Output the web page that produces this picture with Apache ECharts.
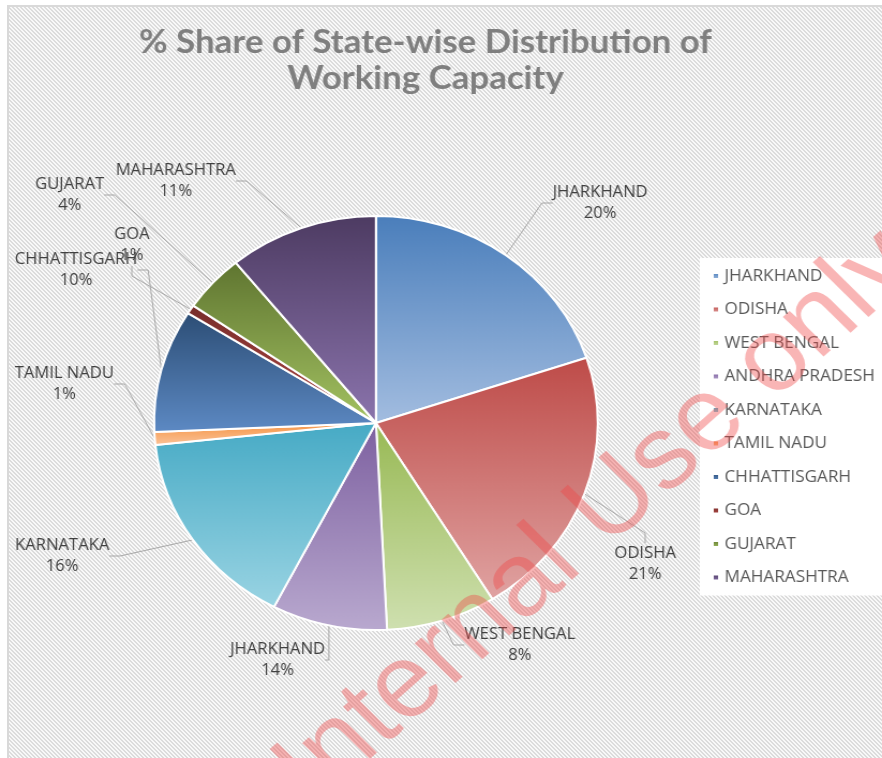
<!DOCTYPE html>
<html>
<head>
<meta charset="utf-8">
<script src="https://cdn.jsdelivr.net/npm/echarts@6/dist/echarts.min.js"></script>
<style>
html,body{margin:0;padding:0;background:#fff;width:882px;height:758px;overflow:hidden;}
#bg{position:absolute;left:7px;top:5px;width:900px;height:800px;border-left:2px solid #d9d9d9;border-top:2px solid #d9d9d9;
background:repeating-linear-gradient(45deg,#f8f8f8 0px,#f8f8f8 1.4px,#dcdcdc 1.4px,#dcdcdc 2.83px);}
#main{position:absolute;left:0;top:0;width:823px;height:758px;transform:scaleX(1.0717);transform-origin:0 0;}
</style>
</head>
<body>
<div id="bg"></div>
<div id="main"></div>
<script>
const categories = ['JHARKHAND','ODISHA','WEST BENGAL','ANDHRA PRADESH','KARNATAKA','TAMIL NADU','CHHATTISGARH','GOA','GUJARAT','MAHARASHTRA'];
const values = [19.9, 21.3, 8.0, 8.4, 15.7, 1.0, 9.6, 0.7, 4.5, 10.9];
const labelNames = ['JHARKHAND','ODISHA','WEST BENGAL','JHARKHAND','KARNATAKA','TAMIL NADU','CHHATTISGARH','GOA','GUJARAT','MAHARASHTRA'];
const labelPercents = ['20%','21%','8%','14%','16%','1%','10%','1%','4%','11%'];
const colorTop = ['#4a7ebb','#be4b48','#98b954','#7d60a0','#46aac5','#f69240','#2c4d75','#772c2a','#5f7530','#4d3b62'];
const colorBottom = ['#a3bde0','#e0a3a2','#cfe0b0','#b9a9cf','#9ad4e3','#fac49c','#5d8ac4','#b04a46','#a3c262','#8b74ad'];

// label anchor positions (layout, unscaled px)
const labelPos = [[560,203],[602,564],[485,645],[259,660],[58,556],[60,384],[71,270],[123,245],[65,195],[164,181]];

const chart = echarts.init(document.getElementById('main'), null, {renderer:'canvas', width:823, height:758});
const data = categories.map((c,i)=>({
  name:c, value:values[i],
  itemStyle:{color:new echarts.graphic.LinearGradient(0,0,0,1,[{offset:0,color:colorTop[i]},{offset:1,color:colorBottom[i]}])}
}));
chart.setOption({
  backgroundColor:'transparent',
  animation:false,
  title:{
    text:'% Share of State-wise Distribution of\nWorking Capacity',
    left:392, top:20, textAlign:'center',
    textStyle:{fontFamily:'Lato',fontWeight:'bold',fontSize:32.5,color:'#7f7f7f',lineHeight:36}
  },
  legend:{
    orient:'vertical', left:653, top:258,
    padding:[10,40,10,11], backgroundColor:'#ffffff',
    itemWidth:6, itemHeight:6, itemGap:17.5, icon:'rect',
    textStyle:{fontFamily:'Open Sans',fontSize:16,color:'#595959'},
    data:categories
  },
  series:[{
    type:'pie',
    center:[350.8,423], radius:207,
    startAngle:90, clockwise:true,
    data:data,
    itemStyle:{borderColor:'#ffffff',borderWidth:2},
    label:{
      show:true, position:'outside', overflow:'none',
      formatter:p=>labelNames[p.dataIndex]+'\n'+labelPercents[p.dataIndex],
      fontFamily:'Open Sans', fontSize:15.5, color:'#404040', lineHeight:21, align:'center'
    },
    labelLine:{show:true,length:30,length2:10,lineStyle:{color:'#a6a6a6',width:1}},
    labelLayout:p=>({x:labelPos[p.dataIndex][0], y:labelPos[p.dataIndex][1], align:'center', verticalAlign:'middle'}),
    emphasis:{disabled:true}
  }],
  graphic:[{
    type:'text', x:557, y:518, rotation:0.76, z:100, silent:true,
    style:{text:'Internal Use only', x:0, y:0, align:'center', verticalAlign:'middle',
      fontFamily:'Liberation Sans', fontSize:104, fill:'rgba(240,70,70,0.40)'}
  }]
});
</script>
</body>
</html>
